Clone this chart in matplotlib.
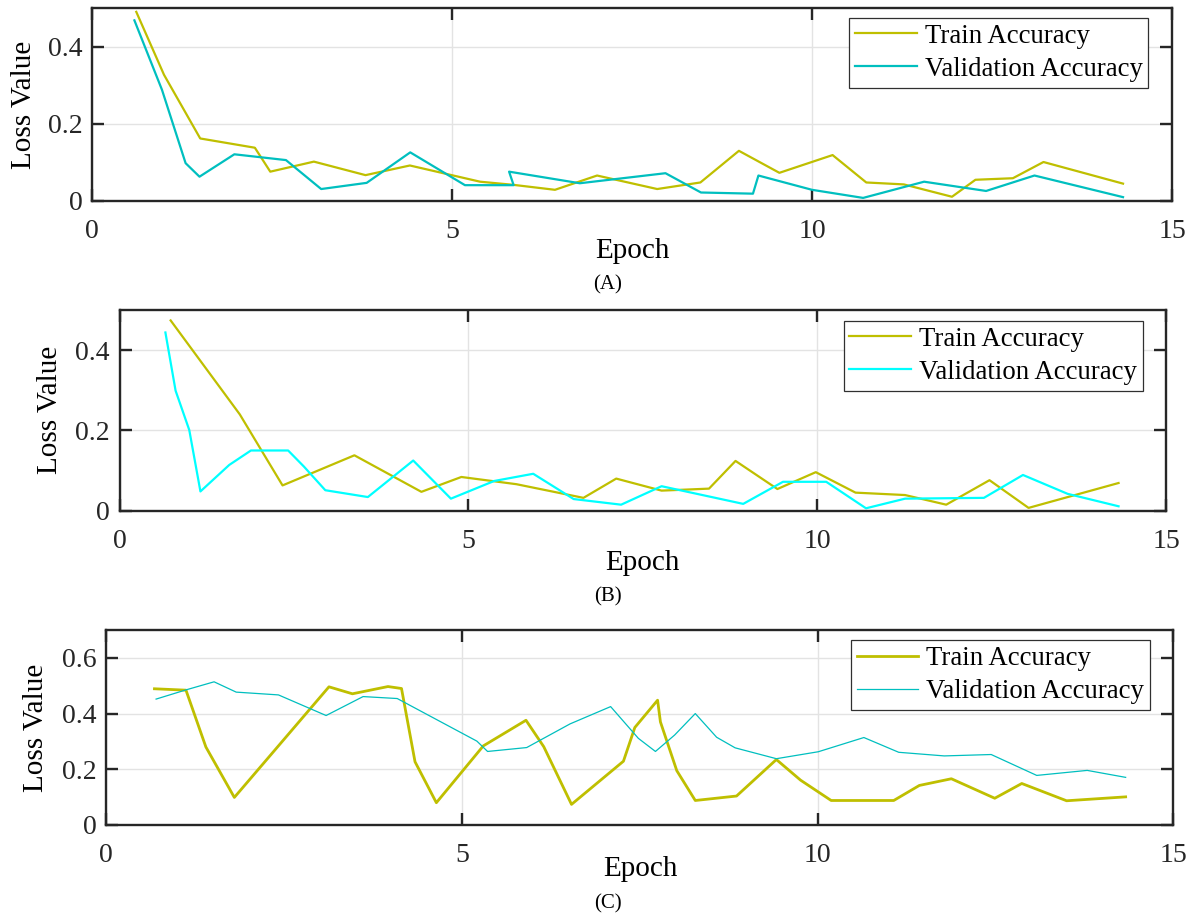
import matplotlib
matplotlib.use("Agg")
import matplotlib.pyplot as plt

plt.rcParams['font.family'] = ['Liberation Serif', 'DejaVu Serif']
plt.rcParams['mathtext.fontset'] = 'stix'

# ---------------- data ----------------
# Panel A
epoch_a_train = [0.615, 1.0, 1.503, 2.262, 2.476, 3.082, 3.799, 4.415, 5.39, 5.846, 6.43, 7.015,
                 7.85, 8.45, 8.985, 9.547, 10.286, 10.754, 11.275, 11.944, 12.27, 12.79, 13.215, 14.32]
loss_a_train = [0.490, 0.327, 0.162, 0.138, 0.076, 0.102, 0.067, 0.092, 0.050, 0.042, 0.029, 0.066,
                0.031, 0.048, 0.130, 0.073, 0.119, 0.048, 0.043, 0.011, 0.055, 0.059, 0.101, 0.045]
epoch_a_val = [0.589, 0.972, 1.30, 1.493, 1.977, 2.694, 3.183, 3.815, 4.42, 5.18, 5.856, 5.793,
               6.776, 7.965, 8.458, 9.18, 9.256, 10.0, 10.71, 11.557, 12.418, 13.09, 14.32]
loss_a_val = [0.468, 0.288, 0.098, 0.063, 0.121, 0.106, 0.031, 0.047, 0.126, 0.041, 0.041, 0.076,
              0.046, 0.072, 0.022, 0.019, 0.066, 0.029, 0.008, 0.050, 0.026, 0.066, 0.010]

# Panel B
epoch_b_train = [0.733, 1.724, 2.337, 3.367, 4.327, 4.90, 5.69, 6.65, 7.12, 7.77, 8.45, 8.83,
                 9.43, 9.98, 10.55, 11.26, 11.85, 12.47, 13.03, 14.32]
loss_b_train = [0.474, 0.240, 0.063, 0.138, 0.047, 0.084, 0.066, 0.032, 0.080, 0.050, 0.055, 0.124,
                0.054, 0.096, 0.045, 0.039, 0.015, 0.076, 0.007, 0.069]
epoch_b_val = [0.658, 0.804, 1.0, 1.16, 1.573, 1.884, 2.417, 2.643, 2.95, 3.56, 4.21, 4.75, 5.37,
               5.93, 6.51, 7.19, 7.77, 8.94, 9.51, 10.13, 10.70, 11.26, 12.39, 12.95, 13.59, 14.32]
loss_b_val = [0.444, 0.299, 0.201, 0.048, 0.114, 0.150, 0.150, 0.110, 0.051, 0.034, 0.125, 0.030,
              0.074, 0.092, 0.029, 0.015, 0.061, 0.017, 0.072, 0.072, 0.006, 0.030, 0.032, 0.089,
              0.042, 0.011]

# Panel C
epoch_c_train = [0.677, 1.12, 1.40, 1.80, 3.13, 3.46, 3.96, 4.15, 4.34, 4.64, 5.30, 5.90, 6.15,
                 6.54, 7.27, 7.43, 7.75, 7.79, 8.02, 8.28, 8.86, 9.42, 9.76, 10.19, 11.07, 11.43,
                 11.88, 12.49, 12.87, 13.50, 14.33]
loss_c_train = [0.489, 0.484, 0.280, 0.099, 0.496, 0.471, 0.497, 0.490, 0.227, 0.080, 0.284, 0.376,
                0.281, 0.074, 0.229, 0.350, 0.448, 0.370, 0.195, 0.088, 0.104, 0.235, 0.161, 0.088,
                0.088, 0.142, 0.166, 0.096, 0.149, 0.087, 0.101]
epoch_c_val = [0.70, 1.12, 1.515, 1.826, 2.42, 3.09, 3.61, 4.09, 5.21, 5.36, 5.91, 6.52, 7.09,
               7.48, 7.72, 7.99, 8.28, 8.58, 8.84, 9.42, 10.01, 10.65, 11.14, 11.78, 12.44, 13.08,
               13.79, 14.33]
loss_c_val = [0.452, 0.485, 0.514, 0.477, 0.467, 0.393, 0.461, 0.454, 0.301, 0.264, 0.278, 0.363,
              0.425, 0.311, 0.264, 0.323, 0.400, 0.315, 0.277, 0.238, 0.263, 0.314, 0.261, 0.248,
              0.253, 0.178, 0.196, 0.171]

x_ticks = [0, 5, 10, 15]
y_ticks_ab = [0, 0.2, 0.4]
y_ticks_c = [0, 0.2, 0.4, 0.6]
y_tick_labels_ab = ['0', '0.2', '0.4']
y_tick_labels_c = ['0', '0.2', '0.4', '0.6']
label_train = 'Train Accuracy'
label_val = 'Validation Accuracy'
captions = ['(A)', '(B)', '(C)']

# ---------------- layout ----------------
W, H = 1190, 915
fig = plt.figure(figsize=(W / 100, H / 100), dpi=100)

def px_axes(l, t, r, b):
    return fig.add_axes([l / W, 1 - b / H, (r - l) / W, (b - t) / H])

TRAIN_COLOR = '#bfbf00'
AXC = '#262626'

panels = [
    dict(box=(92, 8, 1172, 201), ylim=0.5, yt=y_ticks_ab, ytl=y_tick_labels_ab,
         tr=(epoch_a_train, loss_a_train), va=(epoch_a_val, loss_a_val),
         vcol='#00bfbf', tlw=1.6, vlw=1.6, leg=(849, 17.7), xl=(632, 251), yl=(24, 105),
         cap=(607.5, 285)),
    dict(box=(119.5, 310, 1166, 510.7), ylim=0.5, yt=y_ticks_ab, ytl=y_tick_labels_ab,
         tr=(epoch_b_train, loss_b_train), va=(epoch_b_val, loss_b_val),
         vcol='#00ffff', tlw=1.6, vlw=1.6, leg=(843.6, 320.7), xl=(642.7, 563), yl=(50, 410),
         cap=(607.5, 596.5)),
    dict(box=(106.3, 630, 1173.3, 825), ylim=0.7, yt=y_ticks_c, ytl=y_tick_labels_c,
         tr=(epoch_c_train, loss_c_train), va=(epoch_c_val, loss_c_val),
         vcol='#00bfbf', tlw=2.0, vlw=0.9, leg=(850.8, 640), xl=(640, 869.5), yl=(36, 728),
         cap=(607.5, 904)),
]

for i, p in enumerate(panels):
    ax = px_axes(*p['box'])
    ax.plot(*p['tr'], color=TRAIN_COLOR, lw=p['tlw'], label=label_train)
    ax.plot(*p['va'], color=p['vcol'], lw=p['vlw'], label=label_val)
    ax.set_xlim(0, 15)
    ax.set_ylim(0, p['ylim'])
    ax.set_xticks(x_ticks)
    ax.set_xticklabels([str(t) for t in x_ticks])
    ax.set_yticks(p['yt'])
    ax.set_yticklabels(p['ytl'])
    ax.grid(True, color='#e3e3e3', lw=1.0)
    ax.set_axisbelow(True)
    for s in ax.spines.values():
        s.set_linewidth(1.7)
        s.set_color(AXC)
    ax.tick_params(direction='in', length=8.5, width=1.7, color=AXC, top=True, right=True,
                   labelsize=20, labelcolor=AXC)
    ax.tick_params(axis='x', pad=13)
    ax.tick_params(axis='y', pad=7)

    ax.set_xlabel('Epoch', fontsize=21, va='center', ha='center')
    ax.xaxis.set_label_coords(p['xl'][0] / W, 1 - p['xl'][1] / H, transform=fig.transFigure)
    ax.set_ylabel('Loss Value', fontsize=21, va='center', ha='center')
    ax.yaxis.set_label_coords(p['yl'][0] / W, 1 - p['yl'][1] / H, transform=fig.transFigure)

    leg = ax.legend(loc='upper left', bbox_to_anchor=(p['leg'][0] / W, 1 - p['leg'][1] / H),
                    bbox_transform=fig.transFigure, borderaxespad=0, fontsize=19.3,
                    fancybox=False, framealpha=1, edgecolor='#303030', handlelength=2.3,
                    handletextpad=0.3, labelspacing=0.3, borderpad=0.22)
    leg.get_frame().set_linewidth(0.9)

    fig.text(p['cap'][0] / W, 1 - p['cap'][1] / H, captions[i], fontsize=15,
             ha='center', va='center')

fig.savefig('out.png', dpi=100)
